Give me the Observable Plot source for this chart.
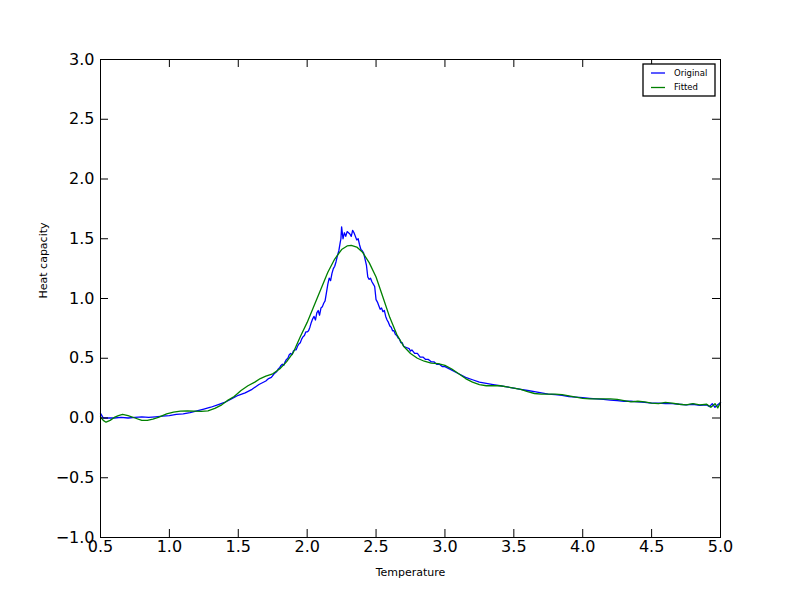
<!DOCTYPE html>
<html>
<head>
<meta charset="utf-8">
<script src="https://cdn.jsdelivr.net/npm/d3@7"></script>
<script src="https://cdn.jsdelivr.net/npm/@observablehq/plot@0.6"></script>
<style>
  html, body { margin: 0; padding: 0; background: #fff; }
  #chart { width: 800px; height: 597px; }
</style>
</head>
<body>
<div id="chart"></div>
<script>
const xTicks = [0.5, 1.0, 1.5, 2.0, 2.5, 3.0, 3.5, 4.0, 4.5, 5.0];
const yTicks = [-1.0, -0.5, 0.0, 0.5, 1.0, 1.5, 2.0, 2.5, 3.0];
const seriesNames = ["Original", "Fitted"];

const originalT = [0.50,0.51,0.52,0.55,0.60,0.65,0.70,0.75,0.80,0.85,0.90,0.95,1.00,1.05,1.10,1.15,1.20,1.25,1.30,1.35,1.40,1.45,1.50,1.55,1.60,1.65,1.70,1.72,1.74,1.76,1.78,1.79,1.80,1.81,1.82,1.83,1.84,1.85,1.86,1.87,1.88,1.89,1.90,1.91,1.92,1.93,1.94,1.95,1.96,1.97,1.98,1.99,2.00,2.01,2.02,2.03,2.04,2.05,2.06,2.07,2.08,2.09,2.10,2.11,2.12,2.13,2.14,2.15,2.16,2.17,2.18,2.19,2.20,2.21,2.22,2.23,2.24,2.245,2.25,2.26,2.27,2.28,2.29,2.30,2.31,2.32,2.33,2.34,2.35,2.36,2.37,2.38,2.39,2.40,2.41,2.42,2.43,2.44,2.45,2.46,2.47,2.48,2.49,2.50,2.51,2.52,2.53,2.54,2.55,2.56,2.57,2.58,2.59,2.60,2.61,2.62,2.63,2.64,2.65,2.66,2.67,2.68,2.69,2.70,2.72,2.74,2.75,2.76,2.78,2.80,2.82,2.84,2.86,2.88,2.90,2.92,2.94,2.96,2.98,3.00,3.05,3.10,3.15,3.20,3.25,3.30,3.35,3.40,3.45,3.50,3.55,3.60,3.65,3.70,3.75,3.80,3.85,3.90,3.95,4.00,4.05,4.10,4.15,4.20,4.25,4.30,4.35,4.40,4.45,4.50,4.55,4.60,4.65,4.70,4.75,4.80,4.85,4.90,4.92,4.94,4.96,4.98,5.00];
const originalC = [0.04,0.02,0.00,0.00,0.00,0.005,0.00,0.005,0.01,0.005,0.01,0.015,0.02,0.03,0.035,0.045,0.06,0.075,0.09,0.11,0.13,0.16,0.19,0.21,0.24,0.28,0.31,0.33,0.34,0.37,0.39,0.41,0.42,0.44,0.45,0.44,0.47,0.49,0.50,0.53,0.54,0.53,0.56,0.57,0.57,0.60,0.62,0.63,0.66,0.68,0.69,0.72,0.72,0.73,0.76,0.80,0.83,0.85,0.82,0.88,0.90,0.86,0.92,0.93,0.96,0.98,1.05,1.12,1.17,1.15,1.21,1.25,1.27,1.31,1.36,1.40,1.47,1.50,1.60,1.50,1.55,1.52,1.56,1.55,1.54,1.52,1.57,1.55,1.52,1.49,1.50,1.45,1.41,1.40,1.38,1.33,1.28,1.18,1.16,1.17,1.14,1.12,1.10,0.99,0.97,0.94,0.91,0.92,0.89,0.90,0.85,0.82,0.80,0.77,0.76,0.73,0.73,0.70,0.69,0.67,0.66,0.63,0.63,0.60,0.59,0.58,0.56,0.57,0.54,0.54,0.51,0.51,0.49,0.49,0.47,0.47,0.45,0.45,0.43,0.43,0.40,0.37,0.34,0.32,0.30,0.29,0.28,0.27,0.26,0.25,0.24,0.23,0.22,0.21,0.20,0.195,0.19,0.18,0.175,0.17,0.165,0.16,0.155,0.15,0.145,0.14,0.14,0.135,0.13,0.125,0.125,0.12,0.12,0.115,0.11,0.115,0.105,0.11,0.095,0.12,0.09,0.11,0.13];

const fittedT = [0.50,0.52,0.54,0.57,0.60,0.63,0.66,0.70,0.75,0.80,0.84,0.88,0.92,0.98,1.03,1.08,1.13,1.18,1.23,1.28,1.33,1.38,1.42,1.47,1.52,1.57,1.62,1.66,1.70,1.75,1.80,1.85,1.90,1.95,2.00,2.05,2.10,2.15,2.20,2.25,2.29,2.32,2.36,2.40,2.45,2.50,2.55,2.60,2.65,2.70,2.75,2.80,2.85,2.90,2.95,3.00,3.05,3.10,3.15,3.20,3.25,3.30,3.35,3.40,3.45,3.50,3.55,3.60,3.65,3.70,3.75,3.80,3.85,3.90,3.95,4.00,4.05,4.10,4.15,4.20,4.25,4.30,4.35,4.40,4.45,4.50,4.55,4.60,4.65,4.70,4.75,4.80,4.85,4.90,4.93,4.96,4.98,5.00];
const fittedC = [0.01,-0.02,-0.035,-0.02,0.005,0.02,0.03,0.02,0.00,-0.02,-0.02,-0.01,0.005,0.035,0.05,0.058,0.06,0.057,0.055,0.06,0.08,0.11,0.145,0.18,0.23,0.27,0.30,0.33,0.35,0.37,0.41,0.47,0.55,0.68,0.80,0.94,1.08,1.22,1.33,1.41,1.44,1.445,1.43,1.39,1.30,1.18,1.01,0.84,0.70,0.60,0.54,0.50,0.475,0.46,0.455,0.44,0.41,0.37,0.33,0.30,0.28,0.27,0.27,0.27,0.26,0.25,0.24,0.22,0.205,0.20,0.20,0.20,0.195,0.185,0.175,0.165,0.16,0.16,0.16,0.16,0.155,0.145,0.135,0.14,0.135,0.125,0.12,0.13,0.125,0.115,0.11,0.12,0.11,0.115,0.09,0.12,0.085,0.13];

const original = originalT.map((t, i) => ({T: t, C: originalC[i]}));
const fitted = fittedT.map((t, i) => ({T: t, C: fittedC[i]}));

const W = 800, H = 597;
const mL = 100, mR = 80, mT = 59, mB = 60;
const plotW = W - mL - mR, plotH = H - mT - mB;
const tickLen = 8;
const fmt = d3.format(".1f");

const chart = Plot.plot({
  width: W,
  height: H,
  marginLeft: mL,
  marginRight: mR,
  marginTop: mT,
  marginBottom: mB,
  style: {fontFamily: "DejaVu Sans", background: "white", overflow: "visible"},
  x: {domain: [0.5, 5.0], axis: null},
  y: {domain: [-1.0, 3.0], axis: null},
  marks: [
    Plot.line(original, {x: "T", y: "C", stroke: "#0000ff", strokeWidth: 1.3}),
    Plot.line(fitted, {x: "T", y: "C", stroke: "#008000", strokeWidth: 1.3}),
    Plot.tickX(xTicks, {x: d => d, insetTop: plotH - tickLen, stroke: "black"}),
    Plot.tickX(xTicks, {x: d => d, insetBottom: plotH - tickLen, stroke: "black"}),
    Plot.tickY(yTicks, {y: d => d, insetRight: plotW - tickLen, stroke: "black"}),
    Plot.tickY(yTicks, {y: d => d, insetLeft: plotW - tickLen, stroke: "black"}),
    Plot.frame({stroke: "black", strokeWidth: 1}),
    Plot.text(xTicks, {x: d => d, frameAnchor: "bottom", lineAnchor: "top", dy: 3, text: d => fmt(d), fontSize: 16, fill: "black"}),
    Plot.text(yTicks, {y: d => d, frameAnchor: "left", textAnchor: "end", dx: -6, text: d => fmt(d), fontSize: 16, fill: "black"}),
    Plot.text(["Temperature"], {frameAnchor: "bottom", lineAnchor: "top", dy: 31, text: d => d, fontSize: 11, fill: "black"}),
    Plot.text(["Heat capacity"], {frameAnchor: "left", rotate: -90, dx: -57, text: d => d, fontSize: 11, fill: "black"})
  ]
});

// Legend (upper right, matplotlib style)
const svg = d3.select(chart);
const lg = svg.append("g").attr("font-family", "DejaVu Sans").attr("font-size", 8.5).attr("text-anchor", "start");
const lx = mL + plotW - 77, ly = mT + 5, lw = 72, lh = 32;
lg.append("rect").attr("x", lx).attr("y", ly).attr("width", lw).attr("height", lh)
  .attr("fill", "white").attr("stroke", "black").attr("stroke-width", 1.3);
const colors = ["#0000ff", "#008000"];
seriesNames.forEach((name, i) => {
  const yy = ly + 9 + i * 14.5;
  lg.append("line").attr("x1", lx + 8).attr("x2", lx + 22).attr("y1", yy).attr("y2", yy)
    .attr("stroke", colors[i]).attr("stroke-width", 1.3);
  lg.append("text").attr("x", lx + 31).attr("y", yy).attr("dy", "0.35em")
    .attr("text-anchor", "start").attr("fill", "black").text(name);
});

document.getElementById("chart").appendChild(chart);
</script>
</body>
</html>
